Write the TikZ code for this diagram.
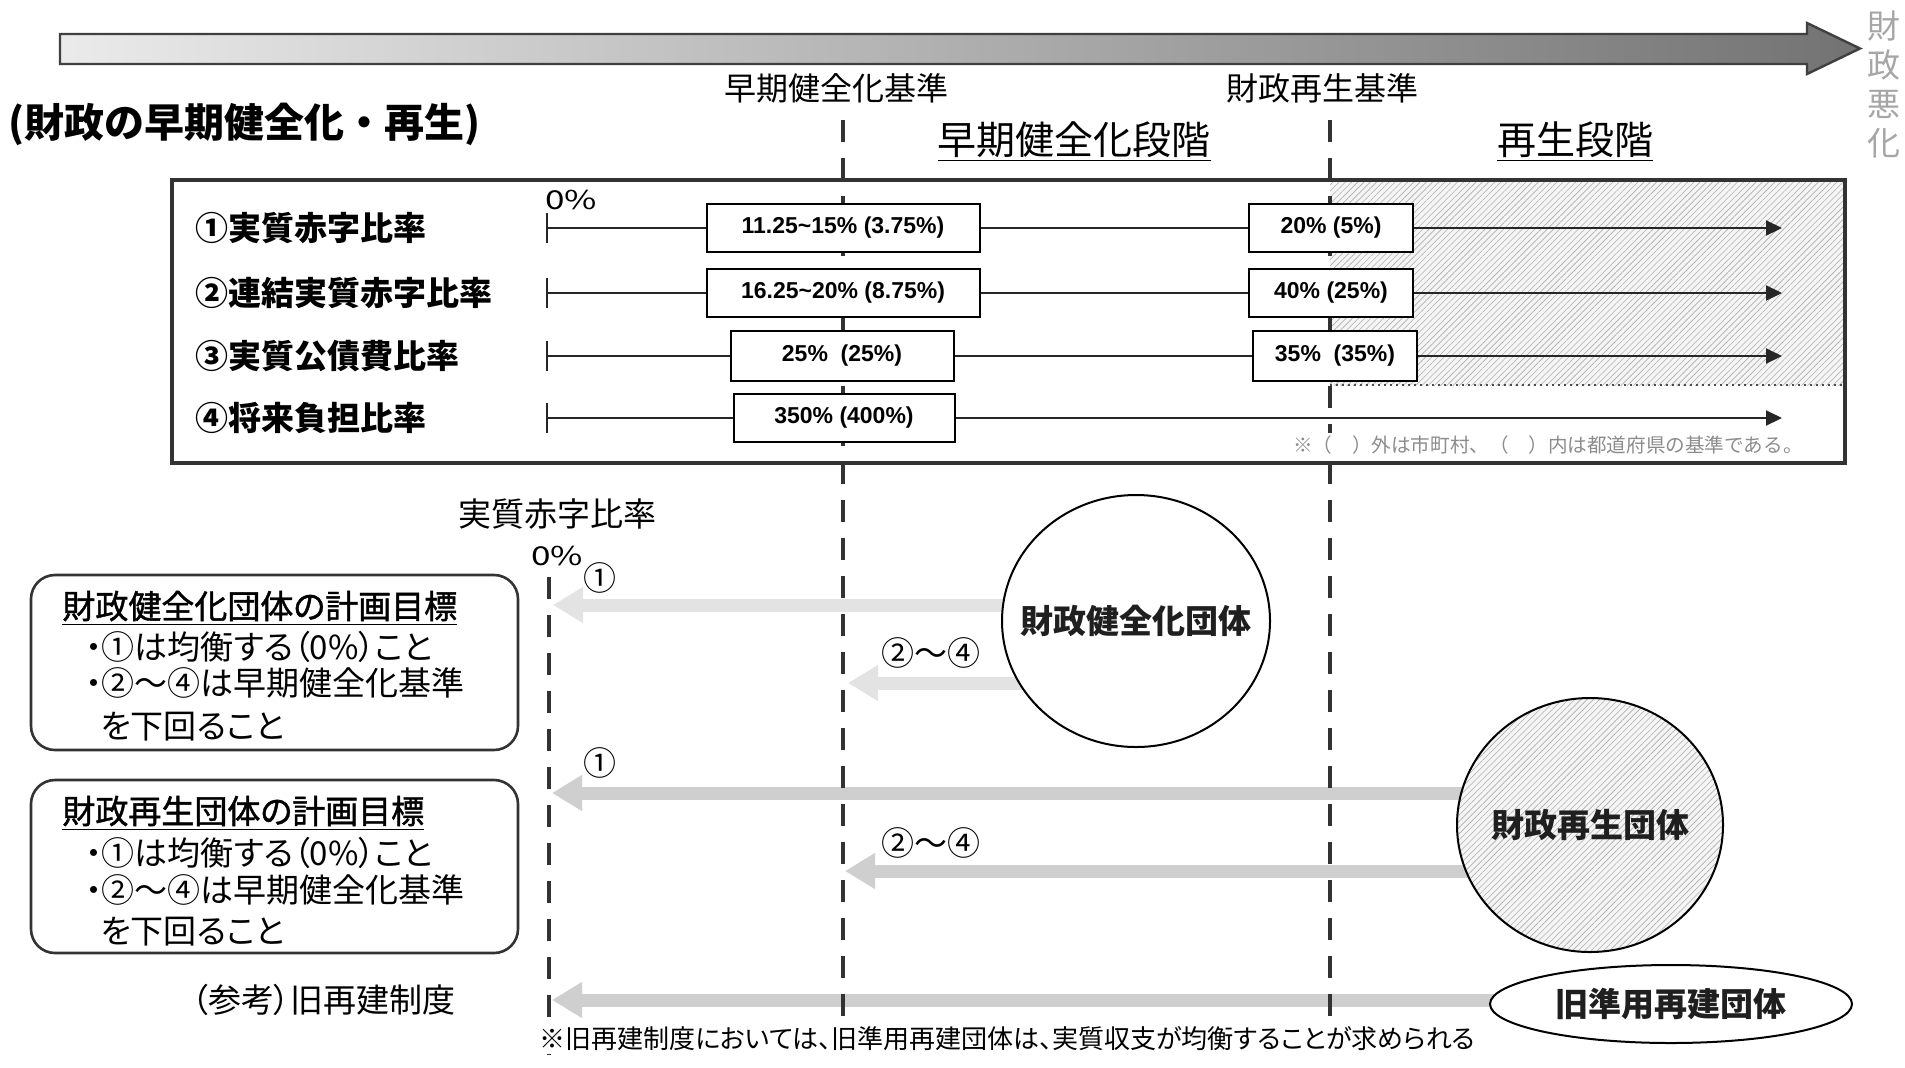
\documentclass[tikz,border=0pt]{standalone}
\usepackage{fontspec}
\usepackage{graphicx}
\setmainfont{Noto Sans CJK JP}
\newfontfamily\jpp[RawFeature=+palt]{Noto Sans CJK JP}
\newfontfamily\jpm[RawFeature=+palt,FakeBold=1.3]{Noto Sans CJK JP}
\newfontfamily\numf{Liberation Sans}
\usetikzlibrary{arrows.meta,shapes.geometric,patterns.meta,backgrounds}
\newcommand\fsz[2]{\fontsize{#1}{#2}\selectfont}
\tikzset{
  vbox/.style={draw, line width=1pt, fill=white, inner sep=0pt, font=\numf\bfseries\fsz{11.5pt}{14pt}},
  rlab/.style={anchor=west, inner sep=0pt, font=\bfseries\fsz{16.5pt}{20pt}},
  rline/.style={line width=1pt, black!85},
  rarrow/.style={line width=1pt, black!85, -{Triangle[length=8pt,width=7.5pt]}},
  vdash/.style={line width=1.8pt, black!80, dash pattern=on 11pt off 8pt},
  garrowA/.style={line width=6.5pt, draw=black!11, -{Triangle[length=15pt,width=17pt]}},
  garrowB/.style={line width=6.5pt, draw=black!19, -{Triangle[length=15pt,width=17pt]}},
  lbox/.style={draw, line width=1.3pt, black!80, rounded corners=12pt, inner sep=0pt},
  ltext/.style={anchor=west, inner sep=0pt, font=\jpp\fsz{16.5pt}{20pt}},
  lhead/.style={anchor=west, inner sep=0pt, font=\jpm\fsz{16.5pt}{20pt}},
  txt/.style={inner sep=0pt, font=\fsz{16.5pt}{20pt}},
  circl/.style={ellipse, draw, line width=1pt, inner sep=0pt},
  lblc/.style={inner sep=0pt, font=\bfseries\fsz{16.5pt}{20pt}, text=black!88},
  hatch/.style={pattern={Lines[angle=45,distance=2.2pt,line width=0.3pt]}, pattern color=black!32},
}
\begin{document}
\begin{tikzpicture}[x=0.5pt,y=-0.5pt]
\useasboundingbox (0,0) rectangle (1905,1067);

% top arrow
\shadedraw[left color=black!8, right color=black!55, draw=black!75, line width=1.2pt, line join=miter]
  (60,34) -- (1807,34) -- (1807,23) -- (1860,48.5) -- (1807,74) -- (1807,64) -- (60,64) -- cycle;
\node[text=black!35, align=center, inner sep=0pt, font=\fsz{16.5pt}{19.5pt}] (akka) at (1884,84) {財\\政\\悪\\化};

% headings
\node[anchor=west, inner sep=0pt, font=\bfseries\fsz{20pt}{24pt}] (ttl) at (8,124) {(財政の早期健全化・再生)};
\node[txt, font=\fsz{16pt}{19pt}] (kj1) at (836,88) {早期健全化基準};
\node[txt, font=\fsz{16pt}{19pt}] (kj2) at (1322,88) {財政再生基準};
\node[txt, font=\fsz{19.5pt}{23pt}] (st1) at (1074,142) {\underline{早期健全化段階}};
\node[txt, font=\fsz{19.5pt}{23pt}] (st2) at (1575,142) {\underline{再生段階}};

% main box
\draw[line width=2pt, black!80] (172,180) rectangle (1845,463);

\node[rlab] (l1) at (195,228) {①実質赤字比率};
\node[rlab] (l2) at (195,293) {②連結実質赤字比率};
\node[rlab] (l3) at (195,356) {③実質公債費比率};
\node[rlab] (l4) at (195,418) {④将来負担比率};

\node[txt, anchor=west, font=\fsz{13pt}{15pt}] (zp1) at (545,200) {\scalebox{1.35}[1]{0\%}};

\node[vbox, minimum width=136.5pt, minimum height=24pt] (r1a) at (843,228) {11.25\textasciitilde15\% (3.75\%)};
\node[vbox, minimum width=82pt, minimum height=24pt] (r1b) at (1331,228) {20\% (5\%)};
\node[vbox, minimum width=136.5pt, minimum height=24pt] (r2a) at (843,293) {16.25\textasciitilde20\% (8.75\%)};
\node[vbox, minimum width=82pt, minimum height=24pt] (r2b) at (1331,293) {40\% (25\%)};
\node[vbox, minimum width=111.5pt, minimum height=25pt] (r3a) at (842,356) {25\%~~(25\%)};
\node[vbox, minimum width=82pt, minimum height=25pt] (r3b) at (1335,356) {35\%~~(35\%)};
\node[vbox, minimum width=110.5pt, minimum height=24pt] (r4a) at (844,418) {350\% (400\%)};

\coordinate (r1s) at (547,228); \coordinate (r1e) at (1782,228);
\coordinate (r2s) at (547,293); \coordinate (r2e) at (1782,293);
\coordinate (r3s) at (547,356); \coordinate (r3e) at (1782,356);
\coordinate (r4s) at (547,418); \coordinate (r4e) at (1782,418);

\draw[rline] ([yshift=-7.5pt]r1s) -- ([yshift=7.5pt]r1s);
\draw[rline] ([yshift=-7.5pt]r2s) -- ([yshift=7.5pt]r2s);
\draw[rline] ([yshift=-7.5pt]r3s) -- ([yshift=7.5pt]r3s);
\draw[rline] ([yshift=-7.5pt]r4s) -- ([yshift=7.5pt]r4s);

\draw[rline] (r1s) -- (r1a); \draw[rline] (r1a) -- (r1b); \draw[rarrow] (r1b) -- (r1e);
\draw[rline] (r2s) -- (r2a); \draw[rline] (r2a) -- (r2b); \draw[rarrow] (r2b) -- (r2e);
\draw[rline] (r3s) -- (r3a); \draw[rline] (r3a) -- (r3b); \draw[rarrow] (r3b) -- (r3e);
\draw[rline] (r4s) -- (r4a); \draw[rarrow] (r4a) -- (r4e);

\node[anchor=east, inner sep=1.5pt, fill=white, text=black!45, font=\fsz{9.8pt}{11pt}] (note) at (1806,445) {※（　）外は市町村、（　）内は都道府県の基準である。};

% lower section
\node[txt] (jl) at (557,514) {実質赤字比率};
\node[txt, font=\fsz{13pt}{15pt}] (zp2) at (557,556) {\scalebox{1.35}[1]{0\%}};
\node[txt] (c1a) at (600,578) {①};
\node[txt] (c24a) at (931,653) {②～④};
\node[txt] (c1b) at (600,763) {①};
\node[txt] (c24b) at (931,843) {②～④};

\node[circl, fill=white, minimum width=134pt, minimum height=126pt, label={[lblc]center:財政健全化団体}] (ken) at (1136,621) {};
\node[circl, preaction={fill=black!4}, hatch, minimum width=133pt, minimum height=127pt, label={[lblc]center:財政再生団体}] (sai) at (1590,825) {};
\node[circl, fill=white, minimum width=181pt, minimum height=39pt, label={[lblc]center:旧準用再建団体}] (kyu) at (1671,1004) {};

\node[lbox, minimum width=243.5pt, minimum height=87.5pt] (bA) at (274.5,662.5) {};
\node[lhead] (bA1) at (62,608) {\underline{財政健全化団体の計画目標}};
\node[ltext] (bA2) at (85,647) {・①は均衡する（0\%）こと};
\node[ltext] (bA3) at (85,683) {・②～④は早期健全化基準};
\node[ltext] (bA4) at (100,727) {を下回ること};

\node[lbox, minimum width=243.5pt, minimum height=86.5pt] (bB) at (274.5,866.5) {};
\node[lhead] (bB1) at (62,813) {\underline{財政再生団体の計画目標}};
\node[ltext] (bB2) at (85,853) {・①は均衡する（0\%）こと};
\node[ltext] (bB3) at (85,890) {・②～④は早期健全化基準};
\node[ltext] (bB4) at (100,932) {を下回ること};

\node[ltext, anchor=east] (sanko) at (456,1000) {（参考）旧再建制度};
\node[ltext, font=\jpp\fsz{13pt}{15pt}, fill=white, inner sep=1.5pt] (foot) at (536,1039) {※旧再建制度においては、旧準用再建団体は、実質収支が均衡することが求められる};

\coordinate (t1) at (553,605);
\coordinate (t2) at (848,683);
\coordinate (t3) at (552,793);
\coordinate (t4) at (845,871);
\coordinate (t5) at (552,1000);
\coordinate (d0t) at (549,577); \coordinate (d0b) at (549,1067);
\coordinate (d1t) at (843,120); \coordinate (d1b) at (843,1067);
\coordinate (d2t) at (1330,120); \coordinate (d2b) at (1330,1067);

\begin{scope}[on background layer]
  \fill[white] (0,0) rectangle (1905,1067);
  \path[preaction={fill=black!4}, hatch] (1330,180) rectangle (1845,385);
  \draw[black!70, line width=1pt, dotted] (1330,385) -- (1845,385);
  \draw[garrowA] (ken.center |- t1) -- (t1);
  \draw[garrowA] (ken.center |- t2) -- (t2);
  \draw[garrowB] (sai.center |- t3) -- (t3);
  \draw[garrowB] (sai.center |- t4) -- (t4);
  \draw[garrowB] (kyu.center |- t5) -- (t5);
  \draw[vdash] (d0t) -- (d0b);
  \draw[vdash] (d1t) -- (d1b);
  \draw[vdash] (d2t) -- (d2b);
\end{scope}
\end{tikzpicture}
\end{document}
